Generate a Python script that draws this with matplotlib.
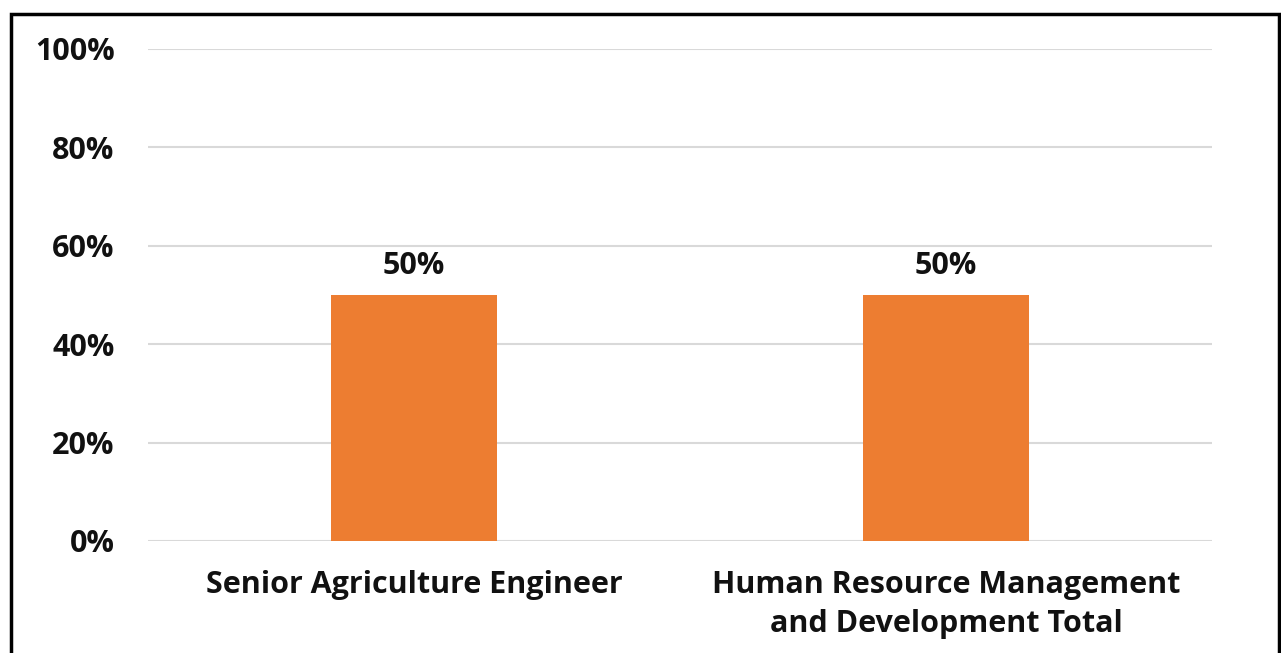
import matplotlib
matplotlib.use("Agg")
import matplotlib.pyplot as plt
from matplotlib.patches import Rectangle

categories = ["Senior Agriculture Engineer", "Human Resource Management\nand Development Total"]
values = [50, 50]
yticks = [0, 20, 40, 60, 80, 100]

plt.rcParams["font.family"] = ["Open Sans", "DejaVu Sans"]

W, H = 1281, 653
fig = plt.figure(figsize=(W / 100, H / 100), dpi=100)
ax = fig.add_axes([148 / W, 1 - 541 / H, (1212 - 148) / W, (541 - 49) / H])

x = range(len(categories))
bars = ax.bar(x, values, width=0.312, color="#ED7D31", zorder=3)
for b, v in zip(bars, values):
    ax.annotate(f"{v}%", (b.get_x() + b.get_width() / 2, v), xytext=(0, 10),
                textcoords="offset points", ha="center", va="bottom",
                fontsize=22, fontweight="bold", color="#111111")

ax.set_xlim(-0.5, 1.5)
ax.set_ylim(0, 100)
ax.set_yticks(yticks)
ax.set_yticklabels([f"{t}%" for t in yticks])
ax.set_xticks(list(x))
ax.set_xticklabels(categories, linespacing=1.4)
ax.tick_params(axis="y", length=0, pad=24, labelsize=22)
ax.tick_params(axis="x", length=0, pad=21, labelsize=22)
for lbl in ax.get_xticklabels() + ax.get_yticklabels():
    lbl.set_fontweight("bold")
    lbl.set_color("#111111")
ax.grid(axis="y", color="#d9d9d9", linewidth=1.5, zorder=0)
for s in ax.spines.values():
    s.set_visible(False)

# outer chart border (bottom edge is cut off in the picture)
fig.patches.append(Rectangle((11 / W, -0.05), (1279 - 11) / W, 1.05 - 14 / H,
                             transform=fig.transFigure, fill=False,
                             edgecolor="black", linewidth=2.5))

fig.savefig("out.png", dpi=100)
